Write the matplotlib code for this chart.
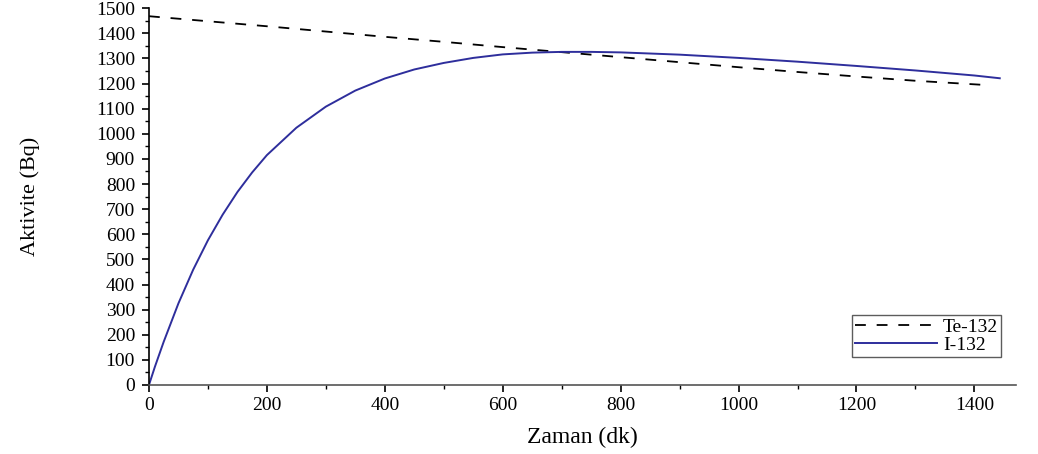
import matplotlib.pyplot as plt
from matplotlib.ticker import MultipleLocator

# zaman (dk)
t_te = [0, 100, 200, 300, 400, 500, 600, 700, 800, 900, 1000, 1100, 1200, 1300, 1420]
te132 = [1468, 1448, 1428, 1407, 1386, 1366, 1345, 1325, 1305, 1285, 1265, 1246, 1228, 1211, 1194]

t_i = [0, 10, 25, 50, 75, 100, 125, 150, 175, 200, 250, 300, 350, 400, 450, 500, 550, 600,
       650, 700, 750, 800, 900, 1000, 1100, 1200, 1300, 1400, 1443]
i132 = [0, 72, 172, 325, 459, 576, 678, 768, 846, 915, 1024, 1108, 1172, 1220, 1256, 1282,
        1302, 1316, 1323, 1326, 1326, 1324, 1315, 1302, 1287, 1270, 1252, 1232, 1221]

plt.rcParams['font.family'] = ['Liberation Serif', 'DejaVu Serif']

fig = plt.figure(figsize=(10.38, 4.54), dpi=100)
ax = fig.add_axes([0.1435, 0.152, 0.835, 0.830])

ax.plot(t_te, te132, color='black', linestyle=(0, (6, 6)), linewidth=1.3, label='Te-132')
ax.plot(t_i, i132, color='#2e2e9c', linewidth=1.4, label='I-132')

ax.set_xlim(0, 1470)
ax.set_ylim(0, 1500)
ax.xaxis.set_major_locator(MultipleLocator(200))
ax.xaxis.set_minor_locator(MultipleLocator(100))
ax.yaxis.set_major_locator(MultipleLocator(100))
ax.yaxis.set_minor_locator(MultipleLocator(50))

for s in ['top', 'right']:
    ax.spines[s].set_visible(False)
ax.spines['left'].set_linewidth(1.2)
ax.spines['bottom'].set_linewidth(1.2)
ax.spines['bottom'].set_color('#555555')

ax.tick_params(which='major', direction='out', length=5, width=1.2, labelsize=14)
ax.tick_params(which='minor', direction='out', length=3, width=1)
ax.tick_params(axis='y', pad=5)
ax.tick_params(axis='x', pad=4)

ax.set_xlabel('Zaman (dk)', fontsize=17, labelpad=9)
ax.set_ylabel('Aktivite (Bq)', fontsize=16, labelpad=40)

leg = ax.legend(loc='lower right', bbox_to_anchor=(0.983, 0.074), fontsize=14,
                frameon=True, fancybox=False, edgecolor='#333333',
                handlelength=4.2, borderpad=0.15, labelspacing=0.05, handletextpad=0.3,
                borderaxespad=0)
leg.get_frame().set_linewidth(1.0)

fig.savefig('out.png', dpi=100)
